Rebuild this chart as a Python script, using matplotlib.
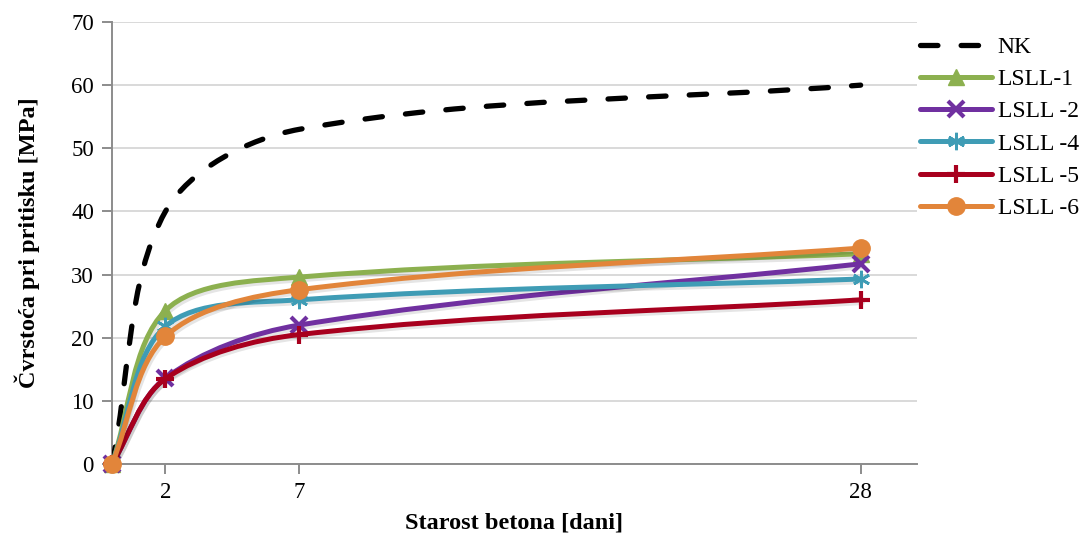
import matplotlib
matplotlib.use("Agg")
import matplotlib.pyplot as plt
import matplotlib.patheffects as pe
import numpy as np
from matplotlib.lines import Line2D
from matplotlib.patches import PathPatch
from matplotlib.path import Path

# age of concrete [days]
days = [0, 2, 7, 28]

nk = [0, 40, 53, 60]
lsll_1 = [0, 24.3, 29.6, 33.3]
lsll_2 = [0, 13.6, 22.0, 31.7]
lsll_4 = [0, 21.8, 26.0, 29.3]
lsll_5 = [0, 13.5, 20.5, 26.0]
lsll_6 = [0, 20.2, 27.6, 34.2]

labels = ["NK", "LSLL-1", "LSLL -2", "LSLL -4", "LSLL -5", "LSLL -6"]
colors = ["black", "#8CB04F", "#7030A0", "#3F9CB5", "#A8001E", "#E2853A"]
markers = [None, "^", "x", (6, 2, 0), "+", "o"]
msizes = [0, 12, 11.5, 12.5, 13, 12.5]
medges = [0, 1, 3, 2, 3, 1]

x_ticks = [2, 7, 28]
NK_DASH = (0, (3.3, 4.4))


def smooth_path(ax, xs, ys):
    """Excel-like smoothed line: cubic Bezier through every point,
    tangents scaled by segment length in screen space."""
    pts = ax.transData.transform(np.column_stack([xs, ys]))
    n = len(pts)
    verts = [pts[0]]
    codes = [Path.MOVETO]
    for i in range(n - 1):
        p0 = pts[max(i - 1, 0)]
        p1, p2 = pts[i], pts[i + 1]
        p3 = pts[min(i + 2, n - 1)]
        d01 = np.hypot(*(p1 - p0))
        d12 = np.hypot(*(p2 - p1))
        d23 = np.hypot(*(p3 - p2))
        c1 = p1 + (p2 - p0) * d12 / (d01 + d12) / 3
        c2 = p2 - (p3 - p1) * d12 / (d12 + d23) / 3
        verts += [c1, c2, p2]
        codes += [Path.CURVE4] * 3
    verts = ax.transData.inverted().transform(np.array(verts))
    return Path(verts, codes)


plt.rcParams["font.family"] = ["Liberation Serif", "DejaVu Serif"]

fig = plt.figure(figsize=(10.86, 5.39), dpi=100)
ax = fig.add_axes([0.1031, 0.1391, 0.7411, 0.8201])
ax.set_xlim(0, 30.1)
ax.set_ylim(0, 70)

shadow = [pe.SimpleLineShadow(offset=(1, -1.5), alpha=0.1, linewidth=4.5), pe.Normal()]

handles = []
for i, (lab, ys) in enumerate(zip(labels, [nk, lsll_1, lsll_2, lsll_4, lsll_5, lsll_6])):
    col = colors[i]
    if lab == "NK":
        patch = PathPatch(smooth_path(ax, days, ys), fill=False, edgecolor=col, lw=3.8,
                          linestyle=NK_DASH, capstyle="round", zorder=3)
        ax.add_patch(patch)
        handles.append(Line2D([], [], color=col, lw=3.8, linestyle=NK_DASH,
                              dash_capstyle="round"))
        continue
    patch = PathPatch(smooth_path(ax, days, ys), fill=False, edgecolor=col, lw=3.6,
                      capstyle="round", zorder=3 + i, path_effects=shadow)
    ax.add_patch(patch)
    ax.plot(days, ys, linestyle="none", marker=markers[i], markersize=msizes[i],
            color=col, markeredgewidth=medges[i], zorder=3.5 + i, clip_on=False)
    handles.append(Line2D([], [], color=col, lw=3.6, solid_capstyle="round",
                          marker=markers[i], markersize=msizes[i],
                          markeredgewidth=medges[i]))

ax.set_xticks(x_ticks)
ax.set_yticks(range(0, 71, 10))
ax.grid(axis="y", color="#D9D9D9", lw=1.4)
ax.set_axisbelow(True)
for side in ("top", "right"):
    ax.spines[side].set_visible(False)
for side in ("left", "bottom"):
    ax.spines[side].set_color("#8C8C8C")
    ax.spines[side].set_linewidth(1.4)
ax.tick_params(length=7, width=1.4, color="#8C8C8C", labelsize=16.5, pad=6)

ax.set_xlabel("Starost betona [dani]", fontsize=17.5, fontweight="bold", labelpad=7)
ax.set_ylabel("Čvrstoća pri pritisku [MPa]", fontsize=17.5, fontweight="bold", labelpad=22)

fig.legend(handles, labels, loc="upper left", bbox_to_anchor=(0.847, 0.932),
           frameon=False, fontsize=17, handlelength=3.05, handletextpad=0.25,
           labelspacing=0.45, borderpad=0, borderaxespad=0)

fig.savefig("out.png", dpi=100)
